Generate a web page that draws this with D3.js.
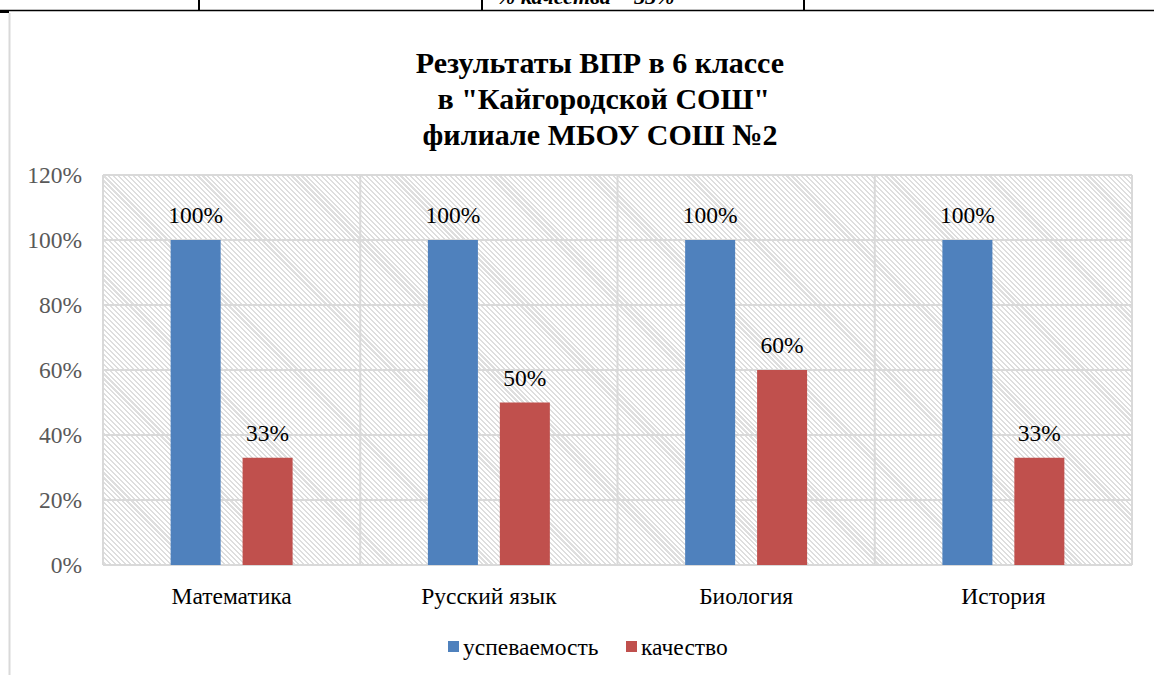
<!DOCTYPE html>
<html>
<head>
<meta charset="utf-8">
<script src="https://cdn.jsdelivr.net/npm/d3@7"></script>
</head>
<body style="margin:0">
<div style="position:relative;width:1154px;height:675px">
<div id="plotBg" style="position:absolute;left:103px;top:175px;width:1029px;height:390px;background:repeating-linear-gradient(45deg,#fff 0px,#fff 2px,#dedede 2px,#dedede 3.5px)"></div>
<svg id="vprPlot" width="1154" height="675" style="position:absolute;left:0;top:0"></svg>
</div>
<script>
var subjects = ["Математика", "Русский язык", "Биология", "История"];
var seriesNames = ["успеваемость", "качество"];
var uspevaemost = [100, 100, 100, 100];
var kachestvo = [33, 50, 60, 33];
var yTicks = [0, 20, 40, 60, 80, 100, 120];
var titleLines = ["Результаты ВПР в 6 классе", "\u00a0в \"Кайгородской СОШ\"", "филиале МБОУ СОШ №2"];
var colors = ["#4F81BD", "#C0504D"];

function font(size, extra) {
    return "font-family:'Liberation Serif';font-size:" + size + "px;" + (extra || "");
}

var fullWidth = 1154, fullHeight = 675;
var margin = {top: 175, right: 22, bottom: 110, left: 103};
var width = fullWidth - margin.left - margin.right;
var height = fullHeight - margin.top - margin.bottom;

var data = subjects.map(function(s, i) {
    return {subject: s, values: [uspevaemost[i], kachestvo[i]]};
});

var svg = d3.select("#vprPlot");

// piece of the table above the chart
svg.append("line")
    .attr("x1", 0).attr("x2", fullWidth)
    .attr("y1", 10.5).attr("y2", 10.5)
    .attr("stroke", "#000").attr("stroke-width", 1.5);
svg.append("rect")
    .attr("x", 0).attr("y", 10).attr("width", 9).attr("height", 3)
    .attr("fill", "#000");
[199, 482, 804].forEach(function(x) {
    svg.append("line")
        .attr("x1", x).attr("x2", x)
        .attr("y1", 0).attr("y2", 10)
        .attr("stroke", "#000").attr("stroke-width", 2);
});
svg.append("text")
    .attr("x", 497).attr("y", 4)
    .attr("style", font(22, "font-weight:bold;font-style:italic;"))
    .text("% качества = 33%");

// chart frame left edge
svg.append("line")
    .attr("x1", 9.5).attr("x2", 9.5)
    .attr("y1", 13).attr("y2", fullHeight)
    .attr("stroke", "#d9d9d9").attr("stroke-width", 2);

// title
titleLines.forEach(function(t, i) {
    svg.append("text")
        .attr("x", 600)
        .attr("y", 73 + i * 36)
        .attr("text-anchor", "middle")
        .attr("style", font(30, "font-weight:bold;"))
        .text(t);
});

var g = svg.append("g")
    .attr("transform", "translate(" + margin.left + "," + margin.top + ")");

var xScale = d3.scaleBand()
    .domain(subjects)
    .range([0, width])
    .padding(0);

var xInner = d3.scaleBand()
    .domain(d3.range(seriesNames.length))
    .range([0, xScale.bandwidth()])
    .paddingInner(0.305)
    .paddingOuter(0.94);

var yScale = d3.scaleLinear()
    .domain([0, 120])
    .range([height, 0]);

// grid
g.append("g")
    .attr("class", "grid")
    .selectAll("line")
    .data(yTicks)
    .enter()
    .append("line")
    .attr("x1", 0).attr("x2", width)
    .attr("y1", function(d) { return yScale(d); })
    .attr("y2", function(d) { return yScale(d); })
    .attr("stroke", "#d9d9d9")
    .attr("stroke-width", 2);

g.append("g")
    .selectAll("line")
    .data(subjects.concat(["end"]))
    .enter()
    .append("line")
    .attr("x1", function(d, i) { return i * xScale.step(); })
    .attr("x2", function(d, i) { return i * xScale.step(); })
    .attr("y1", 0).attr("y2", height)
    .attr("stroke", "#d9d9d9")
    .attr("stroke-width", 2);

// bars
var groups = g.append("g")
    .attr("class", "bars")
    .selectAll("g")
    .data(data)
    .enter()
    .append("g")
    .attr("transform", function(d) { return "translate(" + xScale(d.subject) + ",0)"; });

groups.selectAll("rect")
    .data(function(d) { return d.values; })
    .enter()
    .append("rect")
    .attr("x", function(d, i) { return xInner(i); })
    .attr("y", function(d) { return yScale(d); })
    .attr("width", xInner.bandwidth())
    .attr("height", function(d) { return height - yScale(d); })
    .attr("fill", function(d, i) { return colors[i]; });

groups.selectAll("text")
    .data(function(d) { return d.values; })
    .enter()
    .append("text")
    .attr("x", function(d, i) { return xInner(i) + xInner.bandwidth() / 2; })
    .attr("y", function(d) { return yScale(d) - 17; })
    .attr("text-anchor", "middle")
    .attr("style", font(23.5))
    .attr("fill", "#000")
    .text(function(d) { return d + "%"; });

// y axis
var yAxis = d3.axisLeft(yScale)
    .tickValues(yTicks)
    .tickSize(0)
    .tickPadding(21)
    .tickFormat(function(d) { return d + "%"; });

g.append("g")
    .attr("class", "y-axis")
    .call(yAxis)
    .call(function(s) { s.select(".domain").remove(); })
    .selectAll("text")
    .attr("style", font(23.5))
    .attr("fill", "#595959");

// x axis
var xAxis = d3.axisBottom(xScale).tickSize(0).tickPadding(22);
g.append("g")
    .attr("class", "x-axis")
    .attr("transform", "translate(0," + height + ")")
    .call(xAxis)
    .call(function(s) { s.select(".domain").remove(); })
    .selectAll("text")
    .attr("style", font(23.5))
    .attr("fill", "#000");

// legend
var legendX = [448, 626];
var legend = svg.append("g").attr("class", "legend");
seriesNames.forEach(function(name, i) {
    legend.append("rect")
        .attr("x", legendX[i]).attr("y", 641)
        .attr("width", 11).attr("height", 11)
        .attr("fill", colors[i]);
    legend.append("text")
        .attr("x", legendX[i] + 15).attr("y", 655)
        .attr("style", font(23.5))
        .attr("fill", "#000")
        .text(name);
});
</script>
</body>
</html>
